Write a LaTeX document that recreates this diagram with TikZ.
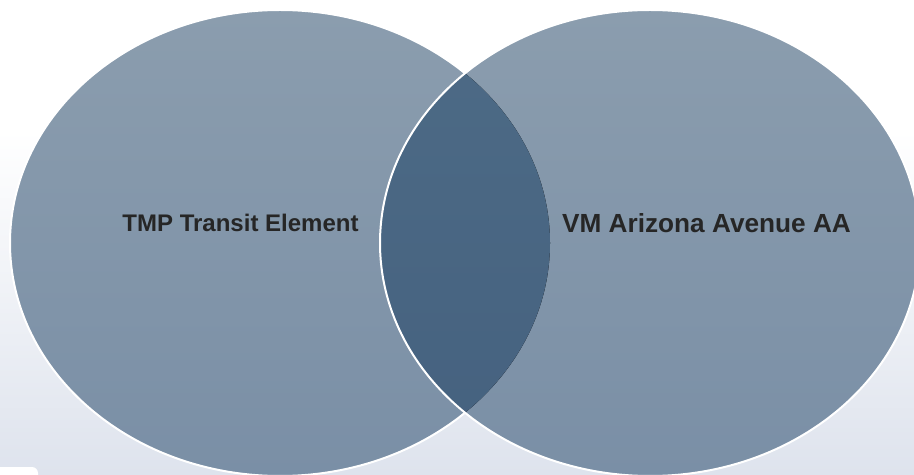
\documentclass[tikz,border=0pt]{standalone}
\usepackage{fontspec}
\setmainfont{Liberation Sans}
\definecolor{circtop}{HTML}{8B9DAE}
\definecolor{circbot}{HTML}{7A8FA6}
\definecolor{lenstop}{HTML}{4D6B86}
\definecolor{lensbot}{HTML}{45617F}
\definecolor{bgbot}{HTML}{DEE3ED}
\definecolor{txt}{HTML}{262626}
\tikzset{
  circfill/.style={top color=circtop, bottom color=circbot},
  lensfill/.style={top color=lenstop, bottom color=lensbot},
  rim/.style={draw=white, line width=2bp},
  lbl/.style={font=\bfseries, text=txt, inner sep=0pt}
}
\begin{document}
\begin{tikzpicture}[x=1bp,y=-1bp]
\clip (0,0) rectangle (914,475);
% background
\fill[white] (0,0) rectangle (914,130);
\shade[top color=white, bottom color=bgbot] (0,130) rectangle (914,475);
% small corner artefact
\fill[white, rounded corners=6bp] (-10,467) rectangle (38,485);
% left circle
\fill[circfill] (280,243) ellipse [x radius=270, y radius=233];
\draw[rim] (280,243) ellipse [x radius=270, y radius=233];
% right circle
\fill[circfill] (650,243) ellipse [x radius=270, y radius=233];
% overlap
\begin{scope}
  \clip (280,243) ellipse [x radius=270, y radius=233];
  \fill[lensfill] (650,243) ellipse [x radius=270, y radius=233];
\end{scope}
\draw[rim] (650,243) ellipse [x radius=270, y radius=233];
% labels
\node[lbl, font=\bfseries\fontsize{24bp}{28bp}\selectfont] (left) at (240.5,223) {TMP Transit Element};
\node[lbl, font=\bfseries\fontsize{26.2bp}{30bp}\selectfont] (right) at (706.5,223) {VM Arizona Avenue AA};
\end{tikzpicture}
\end{document}
